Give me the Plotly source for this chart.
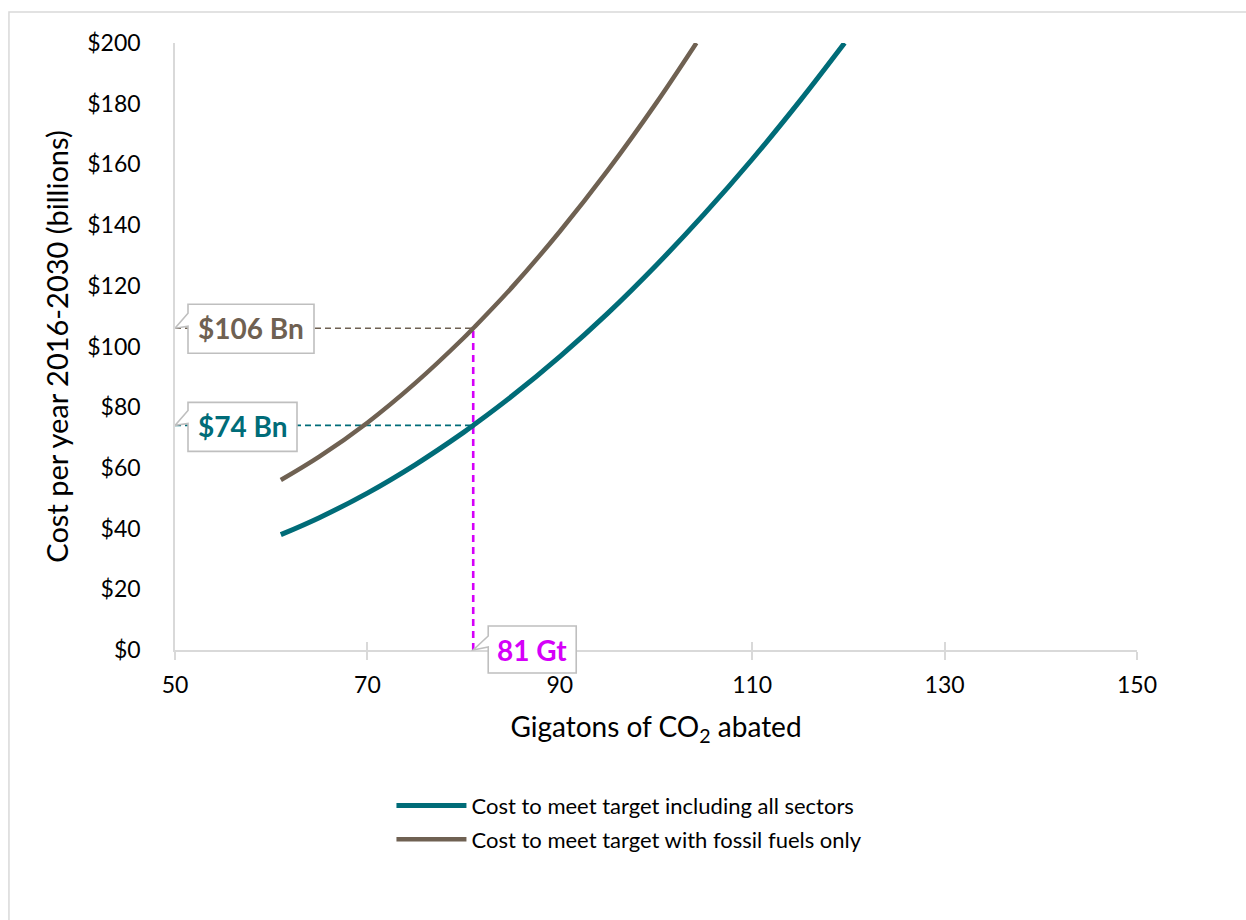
import plotly.graph_objects as go

# Abatement (Gt CO2) and annual cost ($bn) for the two cost curves
gt_all = [61, 65, 70, 75, 80, 81, 85, 90, 95, 100, 105, 110, 115, 119.6]
cost_all = [38, 43.6, 51.7, 61.1, 71.7, 74, 83.6, 96.7, 111, 126.7, 143.6, 161.7, 181.1, 200]

gt_fossil = [61, 65, 70, 75, 80, 81, 85, 90, 95, 100, 104.2]
cost_fossil = [56, 63.7, 74.9, 88, 102.8, 106, 119.4, 137.9, 158.1, 180.1, 200]

target_gt = 81
target_cost_all = 74
target_cost_fossil = 106

x_ticks = [50, 70, 90, 110, 130, 150]
y_ticks = [0, 20, 40, 60, 80, 100, 120, 140, 160, 180, 200]
y_tick_text = [f"${v}" for v in y_ticks]

TEAL = "#006C78"
BROWN = "#6F6152"
MAGENTA = "#D500F9"
GRID = "#D9D9D9"
FONT = "Lato"

fig = go.Figure()

# reference lines from the axes to the target point
fig.add_trace(go.Scatter(x=[50, target_gt], y=[target_cost_fossil] * 2, mode="lines",
                         line=dict(color=BROWN, width=1.6, dash="6px,4px"),
                         showlegend=False, hoverinfo="skip"))
fig.add_trace(go.Scatter(x=[50, target_gt], y=[target_cost_all] * 2, mode="lines",
                         line=dict(color=TEAL, width=1.6, dash="6px,4px"),
                         showlegend=False, hoverinfo="skip"))
fig.add_trace(go.Scatter(x=[target_gt, target_gt], y=[0, target_cost_fossil], mode="lines",
                         line=dict(color=MAGENTA, width=2.6, dash="7px,5px"),
                         showlegend=False, hoverinfo="skip"))

fig.add_trace(go.Scatter(x=gt_all, y=cost_all, mode="lines",
                         name="Cost to meet target including all sectors",
                         legendgroup="a",
                         line=dict(color=TEAL, width=5, shape="spline", smoothing=1.0)))
fig.add_trace(go.Scatter(x=gt_fossil, y=cost_fossil, mode="lines",
                         name="Cost to meet target with fossil fuels only",
                         legendgroup="b",
                         line=dict(color=BROWN, width=4.5, shape="spline", smoothing=1.0)))

# empty trace carrying the upper half of the crossing x tick marks
fig.add_trace(go.Scatter(x=[None], y=[None], xaxis="x2", showlegend=False, hoverinfo="skip"))


def callout(x, y, yref, left, right, top, bottom, tail_hi, tail_lo):
    path = (f"M{left},{top} L{right},{top} L{right},{bottom} L{left},{bottom} "
            f"L{left},{tail_lo} L0,0 L{left},{tail_hi} Z")
    return dict(type="path", xref="x", yref=yref, xsizemode="pixel", ysizemode="pixel",
                xanchor=x, yanchor=y, path=path, fillcolor="white",
                line=dict(color="#BFBFBF", width=1.6), layer="above")


shapes = [
    callout(50, target_cost_fossil, "y", 13, 139, 24, -25, 15, 2),
    callout(50, target_cost_all, "y", 13, 122, 23, -26, 15, 2),
    callout(target_gt, 0, "paper", 15, 103, 24, -23, 14, 3),
    # outer chart border
    dict(type="rect", xref="paper", yref="paper", x0=-0.1726, x1=1.2, y0=-0.5, y1=1.0511,
         line=dict(color=GRID, width=1.5), fillcolor="rgba(0,0,0,0)", layer="below"),
]

annotations = [
    dict(x=50, y=target_cost_fossil, xref="x", yref="y", text=f"<b>${target_cost_fossil} Bn</b>",
         showarrow=False, xshift=76, yshift=0, font=dict(family=FONT, size=28, color=BROWN)),
    dict(x=50, y=target_cost_all, xref="x", yref="y", text=f"<b>${target_cost_all} Bn</b>",
         showarrow=False, xshift=67.5, yshift=-1, font=dict(family=FONT, size=28, color=TEAL)),
    dict(x=target_gt, y=0, xref="x", yref="y", text=f"<b>{target_gt} Gt</b>",
         showarrow=False, xshift=59, yshift=0, font=dict(family=FONT, size=28, color=MAGENTA)),
]

fig.update_layout(
    width=1246, height=920,
    margin=dict(l=175, r=109, t=43, b=270),
    paper_bgcolor="white", plot_bgcolor="white",
    font=dict(family=FONT, color="black"),
    shapes=shapes, annotations=annotations,
    showlegend=True,
    legend=dict(x=0.225, y=-0.222, xanchor="left", yanchor="top",
                font=dict(family=FONT, size=22, color="black"),
                itemwidth=70, traceorder="grouped", tracegroupgap=2,
                bgcolor="rgba(0,0,0,0)"),
    xaxis2=dict(overlaying="x", matches="x", range=[50, 150], tickvals=x_ticks,
                showticklabels=False, showgrid=False, zeroline=False, showline=False,
                ticks="inside", ticklen=8, tickcolor=GRID, tickwidth=1.5, side="bottom"),
)

fig.layout.xaxis.update(
    range=[50, 150], tickvals=x_ticks, showgrid=False, zeroline=False,
    showline=True, linecolor=GRID, linewidth=1.5,
    ticks="outside", ticklen=8, tickcolor=GRID, tickwidth=1.5,
    ticklabelstandoff=6,
    tickfont=dict(family=FONT, size=23, color="black"),
    title=dict(text="Gigatons of CO<sub>2</sub> abated",
               font=dict(family=FONT, size=28, color="black"), standoff=20))
fig.layout.yaxis.update(
    range=[0, 200], tickvals=y_ticks, ticktext=y_tick_text, showgrid=False, zeroline=False,
    showline=True, linecolor=GRID, linewidth=1.5, ticks="",
    ticklabelstandoff=28,
    tickfont=dict(family=FONT, size=23, color="black"),
    title=dict(text="Cost per year 2016-2030 (billions)",
               font=dict(family=FONT, size=29, color="black"), standoff=10))

fig.write_html("out.html")
